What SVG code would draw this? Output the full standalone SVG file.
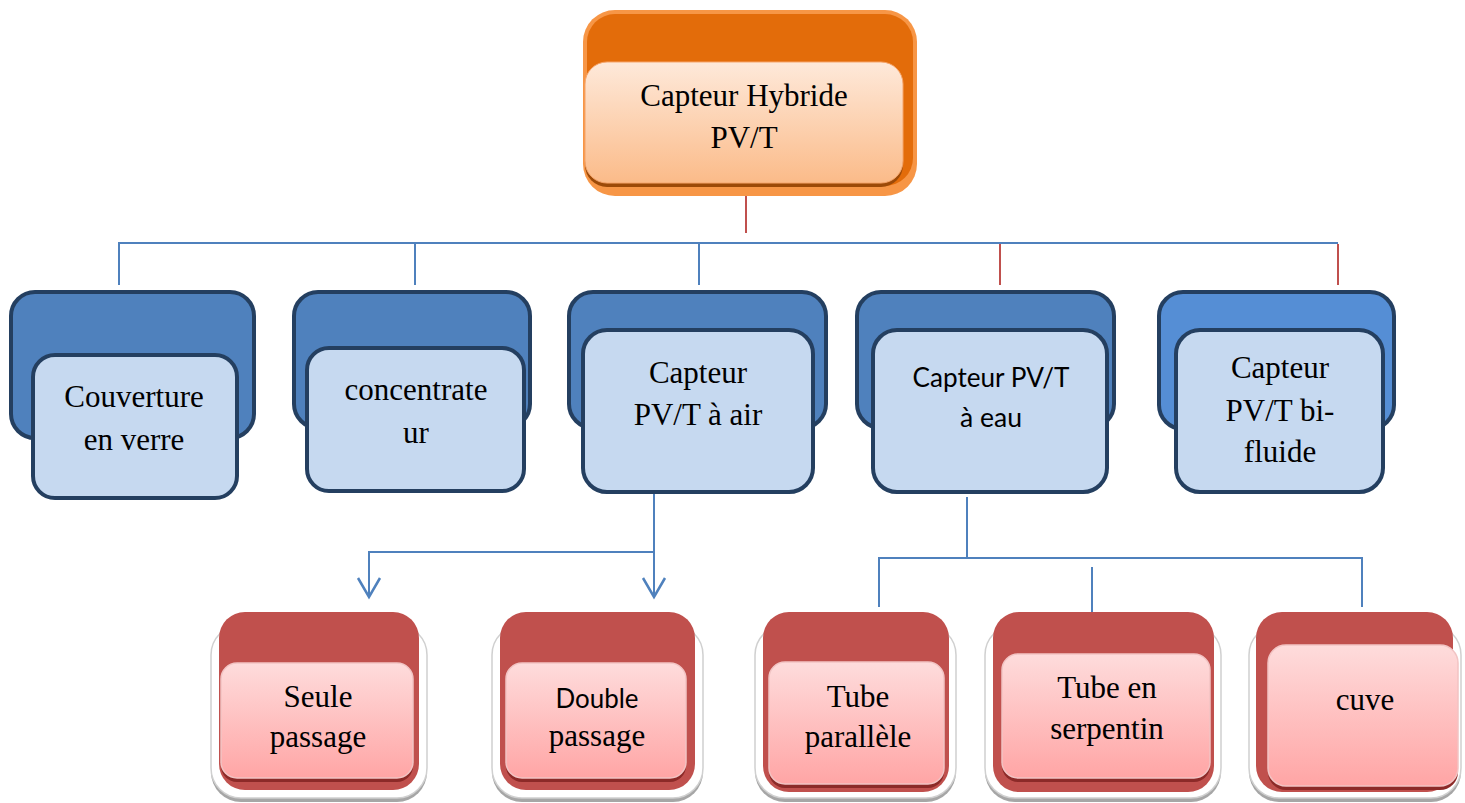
<svg xmlns="http://www.w3.org/2000/svg" width="1465" height="803" viewBox="0 0 1465 803">
<style>
.serif{font-family:"Liberation Serif","Times New Roman",serif;font-size:31px;fill:#000;text-anchor:middle}
.sans{font-family:Lato,"Open Sans",sans-serif;font-size:27px;fill:#000;text-anchor:middle}
.back{fill:#4f81bd;stroke:#243f60;stroke-width:4}
.back2{fill:#558ed5;stroke:#243f60;stroke-width:4}
.front{fill:#c6d9f0;stroke:#243f60;stroke-width:4}
.cb{fill:none;stroke:#4f81bd;stroke-width:2}
.cr{fill:none;stroke:#c0504d;stroke-width:2}
.frame{fill:#fff;stroke:#d0d0d0;stroke-width:1.5}
.fshadow{fill:#a6a6a6}
.red{fill:#c0504d}
.pshadow{fill:#8c2a28}
.pink{fill:url(#pinkGrad);stroke:#f2c4c4;stroke-width:1.5}
</style>
<defs>
<linearGradient id="orangeGrad" x1="0" y1="0" x2="0" y2="1">
<stop offset="0" stop-color="#fee9da"/>
<stop offset="1" stop-color="#fbbb89"/>
</linearGradient>
<linearGradient id="pinkGrad" x1="0" y1="0" x2="0" y2="1">
<stop offset="0" stop-color="#fedcdc"/>
<stop offset="1" stop-color="#ffa5a5"/>
</linearGradient>
<marker id="vArrow" markerUnits="userSpaceOnUse" viewBox="-22 -14 25 28" refX="0" refY="0" markerWidth="25" markerHeight="28" orient="auto" overflow="visible">
<path d="M-19,-11 L0,0 L-19,11" fill="none" stroke="#4f81bd" stroke-width="2.5"/>
</marker>
</defs>

<g id="connectors">
<path class="cr" d="M746,196 V233"/>
<path class="cb" d="M119,285 V243 H1338"/>
<path class="cb" d="M415,243 V285"/>
<path class="cb" d="M699,243 V285"/>
<path class="cr" d="M1000,244 V285"/>
<path class="cr" d="M1338,244 V285"/>
<path class="cb" d="M654,493 V597" marker-end="url(#vArrow)"/>
<path class="cb" d="M654,552 H369 V597" marker-end="url(#vArrow)"/>
<path class="cb" d="M967,497 V558"/>
<path class="cb" d="M879,607 V558 H1362 V607"/>
<path class="cb" d="M1092,567 V613"/>
</g>

<g id="node-root">
<rect x="583" y="10" width="334" height="186" rx="32" fill="#f79646"/>
<rect x="587" y="14" width="326" height="172" rx="28" fill="#e36c0a"/>
<rect x="585" y="66" width="318" height="121" rx="22" fill="#9c4a08"/>
<rect x="585" y="62" width="318" height="121" rx="22" fill="url(#orangeGrad)" stroke="#f6a56b" stroke-width="1"/>
<text class="serif" x="744" y="106">Capteur Hybride</text>
<text class="serif" x="744" y="148">PV/T</text>
</g>

<g id="node-couverture">
<rect class="back" x="11" y="292" width="243" height="146" rx="24"/>
<rect class="front" x="33" y="355" width="204" height="143" rx="22"/>
<text class="serif" x="134" y="407">Couverture</text>
<text class="serif" x="134" y="450">en verre</text>
</g>

<g id="node-concentrateur">
<rect class="back" x="294" y="292" width="236" height="136" rx="24"/>
<rect class="front" x="307" y="348" width="217" height="143" rx="22"/>
<text class="serif" x="416" y="400">concentrate</text>
<text class="serif" x="416" y="443">ur</text>
</g>

<g id="node-air">
<rect class="back" x="569" y="292" width="257" height="136" rx="24"/>
<rect class="front" x="583" y="330" width="230" height="162" rx="24"/>
<text class="serif" x="698" y="383">Capteur</text>
<text class="serif" x="698" y="425">PV/T à air</text>
</g>

<g id="node-eau">
<rect class="back" x="857" y="292" width="257" height="136" rx="24"/>
<rect class="front" x="873" y="330" width="234" height="162" rx="24"/>
<text class="sans" x="991" y="387" textLength="157" lengthAdjust="spacingAndGlyphs">Capteur PV/T</text>
<text class="sans" x="991" y="427" textLength="62" lengthAdjust="spacingAndGlyphs">à eau</text>
</g>

<g id="node-bifluide">
<rect class="back2" x="1159" y="292" width="235" height="137" rx="24"/>
<rect class="front" x="1176" y="330" width="207" height="162" rx="24"/>
<text class="serif" x="1280" y="378">Capteur</text>
<text class="serif" x="1280" y="421">PV/T bi-</text>
<text class="serif" x="1280" y="462">fluide</text>
</g>

<g id="node-seule">
<rect class="fshadow" x="211" y="629" width="216" height="173" rx="30"/>
<rect class="frame" x="211" y="625" width="216" height="173" rx="30"/>
<rect class="red" x="219" y="612" width="200" height="178" rx="26"/>
<rect class="pshadow" x="221" y="667" width="192" height="115" rx="16"/>
<rect class="pink" x="221" y="663" width="192" height="115" rx="16"/>
<text class="serif" x="318" y="707">Seule</text>
<text class="serif" x="318" y="747">passage</text>
</g>

<g id="node-double">
<rect class="fshadow" x="492" y="629" width="211" height="173" rx="30"/>
<rect class="frame" x="492" y="625" width="211" height="173" rx="30"/>
<rect class="red" x="500" y="612" width="195" height="178" rx="26"/>
<rect class="pshadow" x="506" y="667" width="180" height="115" rx="16"/>
<rect class="pink" x="506" y="663" width="180" height="115" rx="16"/>
<text class="sans" x="597" y="708" textLength="83" lengthAdjust="spacingAndGlyphs">Double</text>
<text class="serif" x="597" y="746">passage</text>
</g>

<g id="node-parallele">
<rect class="fshadow" x="755" y="629" width="201" height="173" rx="30"/>
<rect class="frame" x="755" y="625" width="201" height="173" rx="30"/>
<rect class="red" x="763" y="612" width="186" height="180" rx="26"/>
<rect class="pshadow" x="769" y="666" width="175" height="122" rx="16"/>
<rect class="pink" x="769" y="662" width="175" height="122" rx="16"/>
<text class="serif" x="858" y="707">Tube</text>
<text class="serif" x="858" y="747">parallèle</text>
</g>

<g id="node-serpentin">
<rect class="fshadow" x="985" y="629" width="236" height="173" rx="30"/>
<rect class="frame" x="985" y="625" width="236" height="173" rx="30"/>
<rect class="red" x="993" y="612" width="221" height="180" rx="26"/>
<rect class="pshadow" x="1002" y="658" width="208" height="124" rx="16"/>
<rect class="pink" x="1002" y="654" width="208" height="124" rx="16"/>
<text class="serif" x="1107" y="698">Tube en</text>
<text class="serif" x="1107" y="739">serpentin</text>
</g>

<g id="node-cuve">
<rect class="fshadow" x="1249" y="629" width="212" height="173" rx="30"/>
<rect class="frame" x="1249" y="625" width="212" height="173" rx="30"/>
<rect class="red" x="1256" y="612" width="197" height="180" rx="26"/>
<rect class="pshadow" x="1268" y="649" width="190" height="141" rx="18"/>
<rect class="pink" x="1268" y="645" width="190" height="141" rx="18"/>
<text class="serif" x="1365" y="710">cuve</text>
</g>
</svg>
